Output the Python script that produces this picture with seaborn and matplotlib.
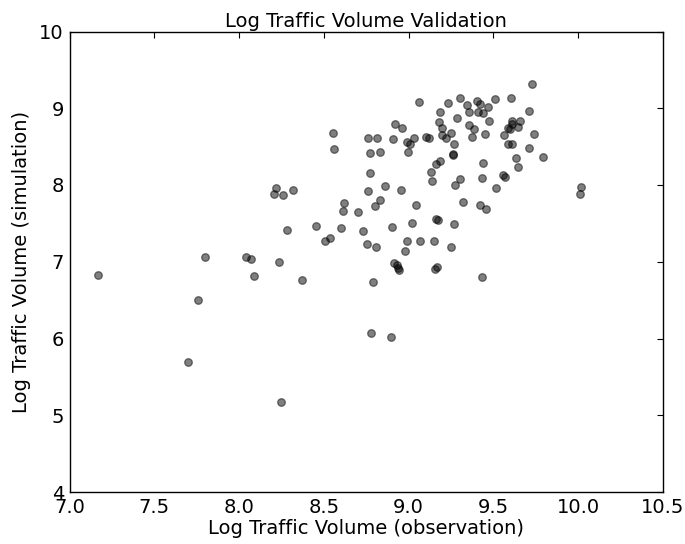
import numpy as np
import pandas as pd
import matplotlib
matplotlib.use("Agg")
import matplotlib.pyplot as plt
import seaborn as sns

obs = [7.17, 7.70, 7.756, 7.80, 8.04, 8.07, 8.09, 8.235, 8.25, 8.37,
       8.215, 8.204, 8.26, 8.317, 8.283, 8.453, 8.504, 8.535, 8.555, 8.56,
       8.60, 8.61, 8.62, 8.70, 8.73, 8.755, 8.758, 8.76, 8.77, 8.77,
       8.777, 8.79, 8.80, 8.81, 8.815, 8.83, 8.83, 8.863, 8.896, 8.90,
       8.91, 8.92, 8.915, 8.93, 8.94, 8.945, 8.957, 8.96, 8.977, 8.99,
       8.99, 9.01, 8.997, 9.02, 9.03, 9.042, 9.064, 9.066, 9.10, 9.12,
       9.129, 9.14, 9.147, 9.153, 9.167, 9.163, 9.175, 9.163, 9.187, 9.18,
       9.186, 9.196, 9.198, 9.218, 9.231, 9.247, 9.25, 9.26, 9.262, 9.265,
       9.265, 9.275, 9.285, 9.30, 9.30, 9.32, 9.346, 9.356, 9.356, 9.372,
       9.387, 9.403, 9.419, 9.409, 9.44, 9.423, 9.43, 9.435, 9.44, 9.45,
       9.456, 9.47, 9.474, 9.508, 9.518, 9.557, 9.567, 9.561, 9.583, 9.60,
       9.587, 9.607, 9.604, 9.607, 9.612, 9.632, 9.644, 9.644, 9.656, 9.707,
       9.709, 9.727, 9.738, 9.794, 10.018, 10.012]

sim = [6.83, 5.69, 6.50, 7.06, 7.06, 7.04, 6.81, 7.00, 5.17, 6.76,
       7.965, 7.88, 7.865, 7.94, 7.42, 7.46, 7.27, 7.31, 8.68, 8.47,
       7.435, 7.66, 7.77, 7.65, 7.405, 7.23, 7.925, 8.61, 8.42, 8.155,
       6.077, 6.73, 7.72, 7.19, 8.61, 8.43, 7.80, 7.99, 6.02, 7.45,
       8.60, 8.79, 6.99, 6.96, 6.92, 6.895, 7.93, 8.74, 7.14, 7.27,
       8.555, 8.53, 8.425, 7.51, 8.61, 7.745, 9.085, 7.275, 8.625, 8.61,
       8.17, 8.05, 7.27, 6.90, 6.93, 7.56, 7.54, 8.27, 8.31, 8.815,
       8.955, 8.74, 8.65, 8.615, 9.07, 8.68, 7.19, 8.40, 8.39, 8.54,
       7.487, 7.995, 8.87, 9.13, 8.08, 7.78, 9.045, 8.95, 8.785, 8.625,
       8.73, 9.10, 9.06, 8.955, 8.94, 7.74, 8.095, 6.80, 8.29, 8.67,
       7.69, 9.01, 8.83, 9.12, 7.965, 8.125, 8.10, 8.65, 8.74, 8.73,
       8.54, 8.53, 9.13, 8.84, 8.80, 8.355, 8.755, 8.24, 8.84, 8.48,
       8.967, 9.32, 8.66, 8.36, 7.97, 7.88]

x_ticks = [7.0, 7.5, 8.0, 8.5, 9.0, 9.5, 10.0, 10.5]
y_ticks = [4, 5, 6, 7, 8, 9, 10]

df = pd.DataFrame({"obs": obs, "sim": sim})

sns.set_style("white")
plt.rcParams["font.family"] = ["DejaVu Sans"]
plt.rcParams["text.color"] = "black"
plt.rcParams["axes.labelcolor"] = "black"

fig = plt.figure(figsize=(6.85, 5.44), dpi=100)
ax = fig.add_axes([69.5 / 685, 1 - 492 / 544, 593.5 / 685, 460.5 / 544])

sns.scatterplot(data=df, x="obs", y="sim", ax=ax, color="black", alpha=0.5,
                s=30, edgecolor="black", linewidth=0.9)

ax.set_xlim(7.0, 10.5)
ax.set_ylim(4, 10)
ax.set_xticks(x_ticks)
ax.set_xticklabels([f"{t:.1f}" for t in x_ticks])
ax.set_yticks(y_ticks)
ax.set_yticklabels([str(t) for t in y_ticks])
ax.tick_params(direction="in", length=4, width=0.8, top=True, right=True,
               labelsize=14, colors="black", labelcolor="black")
ax.tick_params(axis="x", pad=4)
ax.tick_params(axis="y", pad=4)
for sp in ax.spines.values():
    sp.set_visible(True)
    sp.set_color("black")
    sp.set_linewidth(1.0)

ax.set_xlabel("Log Traffic Volume (observation)", fontsize=14, labelpad=2,
              color="black")
ax.set_ylabel("Log Traffic Volume (simulation)", fontsize=14, labelpad=6,
              color="black")
ax.set_title("Log Traffic Volume Validation", fontsize=14, pad=3,
             color="black")

fig.savefig("out.png", dpi=100)
